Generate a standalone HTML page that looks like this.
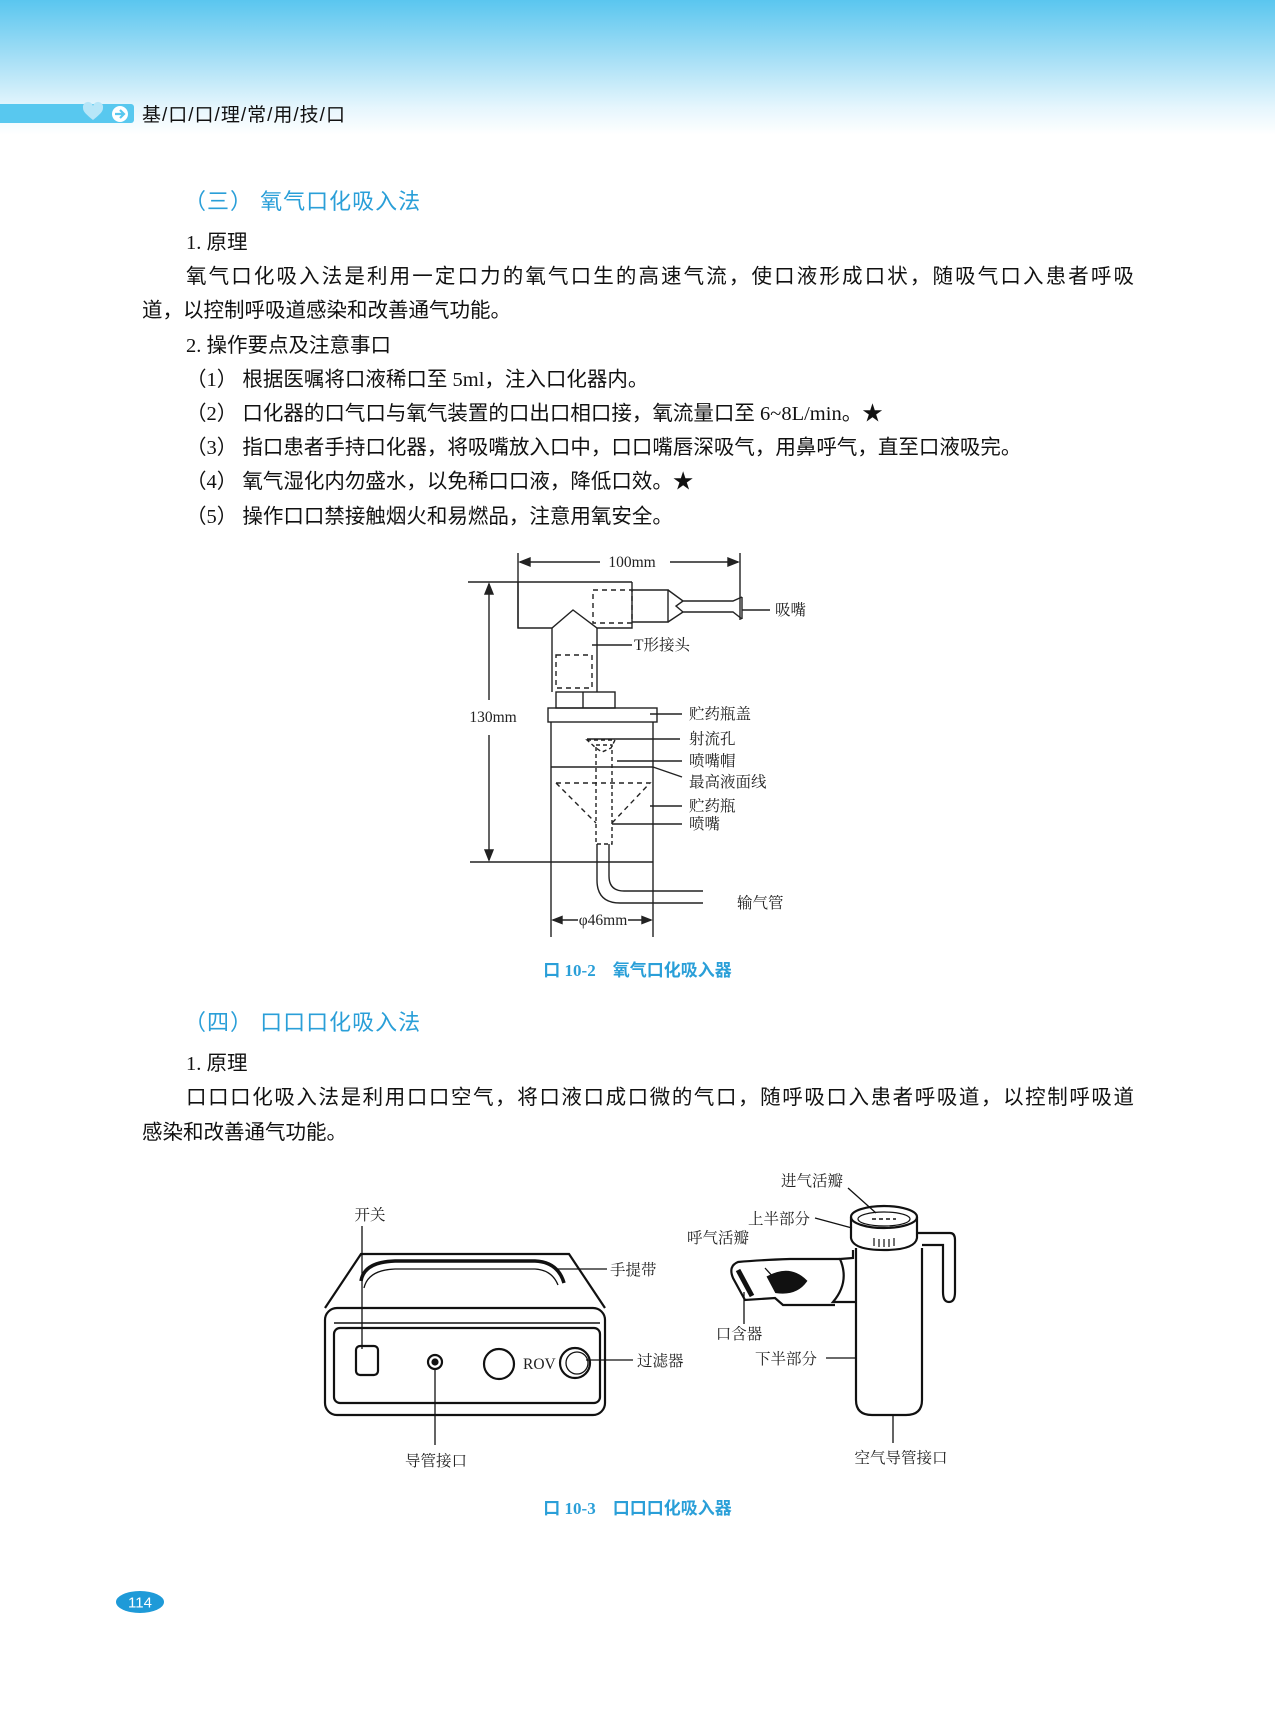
<!DOCTYPE html>
<html><head><meta charset="utf-8">
<style>
*{margin:0;padding:0;box-sizing:border-box}
body{width:1275px;height:1718px;position:relative;background:#fff;font-family:"Liberation Serif","Noto Serif CJK SC","Noto Sans CJK SC",serif;color:#111;overflow:hidden}
.hdr{position:absolute;left:0;top:0;width:1275px;height:135px;background:linear-gradient(#5ac6ef 0%,#a9e0f6 45%,#e6f6fd 80%,#fff 100%)}
.bar{position:absolute;left:0;top:104px;width:134px;height:19px;background:#58c8ef;border-radius:0 3px 3px 0}
.ht{position:absolute;left:142px;top:100px;font-size:19px;font-family:"Liberation Sans","Noto Sans CJK SC",sans-serif;letter-spacing:1px}
.t{position:absolute;font-size:20.5px;line-height:24px;font-family:"Liberation Serif","Noto Sans CJK SC",sans-serif;white-space:nowrap}
.j{text-align:justify;text-align-last:justify;white-space:normal}
.h{position:absolute;font-size:22px;color:#2a9fd8;font-family:"Liberation Sans","Noto Sans CJK SC",sans-serif;letter-spacing:1px}
.cap{position:absolute;font-size:17px;color:#2a9fd8;font-weight:bold;font-family:"Liberation Serif","Noto Sans CJK SC",sans-serif;width:1275px;text-align:center;left:0}
svg{position:absolute;left:0;top:0}
svg text{font-family:"Liberation Serif","Noto Serif CJK SC",serif;font-size:15.5px;fill:#222}
</style></head><body>
<div class="hdr"></div>
<div class="bar"></div>
<svg width="1275" height="1718">
<path d="M93 120 c-6-5-10-8-10-12 a4 4 0 0 1 10-2 a4 4 0 0 1 10 2 c0 4-4 7-10 12z" fill="#b7e6f8"/>
<circle cx="120" cy="114" r="8" fill="#fff"/>
<path d="M115 114 h8 M120 110 l4 4 -4 4" stroke="#58c8ef" stroke-width="2.2" fill="none"/>
</svg>
<div class="ht">基/口/口/理/常/用/技/口</div>

<div class="h" style="left:184px;top:184px">（三） 氧气口化吸入法</div>
<div class="t" style="left:186px;top:231px">1.  原理</div>
<div class="t j" style="left:186px;top:265px;width:948px">氧气口化吸入法是利用一定口力的氧气口生的高速气流，使口液形成口状，随吸气口入患者呼吸</div>
<div class="t" style="left:142px;top:299px">道，以控制呼吸道感染和改善通气功能。</div>
<div class="t" style="left:186px;top:334px">2.  操作要点及注意事口</div>
<div class="t" style="left:186px;top:368px">（1） 根据医嘱将口液稀口至 5ml，注入口化器内。</div>
<div class="t" style="left:186px;top:402px">（2） 口化器的口气口与氧气装置的口出口相口接，氧流量口至 6~8L/min。★</div>
<div class="t" style="left:186px;top:436px">（3） 指口患者手持口化器，将吸嘴放入口中，口口嘴唇深吸气，用鼻呼气，直至口液吸完。</div>
<div class="t" style="left:186px;top:470px">（4） 氧气湿化内勿盛水，以免稀口口液，降低口效。★</div>
<div class="t" style="left:186px;top:505px">（5） 操作口口禁接触烟火和易燃品，注意用氧安全。</div>

<svg width="1275" height="1718" fill="none" stroke="#222" stroke-width="1.4">
<line x1="518" y1="553" x2="518" y2="628"/><line x1="740" y1="553" x2="740" y2="620"/>
<line x1="520" y1="562" x2="600" y2="562"/><line x1="670" y1="562" x2="738" y2="562"/>
<path d="M520 562 l10-4 v8z M738 562 l-10-4 v8z" fill="#222"/>
<text x="632" y="567" text-anchor="middle" stroke="none" font-size="14">100mm</text>
<line x1="468" y1="582" x2="632" y2="582"/>
<line x1="489" y1="584" x2="489" y2="700"/><line x1="489" y1="735" x2="489" y2="860"/>
<path d="M489 584 l-4 10 h8z M489 860 l-4-10 h8z" fill="#222"/>
<text x="493" y="722" text-anchor="middle" stroke="none" font-size="14">130mm</text>
<line x1="470" y1="862" x2="653" y2="862"/>
<path d="M518 582 V628 H552 L573 610 L597 628 H632 V582"/>
<rect x="593" y="590" width="39" height="33" stroke-dasharray="5 4"/>
<path d="M552 628 V692 M597 628 V692"/>
<rect x="556" y="655" width="36" height="33" stroke-dasharray="5 4"/>
<path d="M632 590 H668 V622 H632"/>
<path d="M668 590 L683 601 H733 L742 597 M668 622 L683 612 H733 L742 619 M683 601 L676 606 L683 612"/>
<line x1="742" y1="597" x2="742" y2="619"/>
<line x1="742" y1="610" x2="770" y2="610"/>
<rect x="556" y="692" width="59" height="16"/><line x1="583" y1="692" x2="583" y2="708"/>
<rect x="548" y="708" width="109" height="14"/>
<path d="M551 722 V937 M653 722 V937"/>
<line x1="551" y1="767" x2="653" y2="767"/>
<path d="M587 740 H615 L611 748 L602 752 L596 748 Z" stroke-dasharray="4 3"/>
<rect x="596" y="745" width="16" height="99" stroke-dasharray="4 3"/>
<path d="M556 783 H650 L612 823 M556 783 L596 823" stroke-dasharray="5 4"/>
<path d="M597 844 V880 Q597 903 620 903 H703 M609 844 V876 Q609 891 624 891 H703"/>
<line x1="553" y1="920" x2="578" y2="920"/><line x1="628" y1="920" x2="651" y2="920"/>
<path d="M553 920 l9-3.5 v7z M651 920 l-9-3.5 v7z" fill="#222"/>
<text x="603" y="925" text-anchor="middle" stroke="none" font-size="14">φ46mm</text>
<line x1="592" y1="645" x2="632" y2="645"/>
<line x1="650" y1="714" x2="682" y2="714"/>
<line x1="587" y1="739" x2="680" y2="739"/>
<line x1="617" y1="761" x2="682" y2="761"/>
<line x1="653" y1="767" x2="682" y2="777"/>
<line x1="650" y1="806" x2="682" y2="806"/>
<line x1="612" y1="824" x2="682" y2="824"/>
<g stroke="none">
<text x="775" y="615">吸嘴</text>
<text x="634" y="650">T形接头</text>
<text x="689" y="719">贮药瓶盖</text>
<text x="689" y="744">射流孔</text>
<text x="689" y="766">喷嘴帽</text>
<text x="689" y="787">最高液面线</text>
<text x="689" y="811">贮药瓶</text>
<text x="689" y="829">喷嘴</text>
<text x="737" y="908">输气管</text>
</g>
</svg>
<div class="cap" style="top:956px">口 10-2　氧气口化吸入器</div>

<div class="h" style="left:184px;top:1005px">（四） 口口口化吸入法</div>
<div class="t" style="left:186px;top:1052px">1.  原理</div>
<div class="t j" style="left:186px;top:1086px;width:948px">口口口化吸入法是利用口口空气，将口液口成口微的气口，随呼吸口入患者呼吸道，以控制呼吸道</div>
<div class="t" style="left:142px;top:1121px">感染和改善通气功能。</div>

<svg width="1275" height="1718" fill="none" stroke="#111" stroke-width="2.2">
<path d="M325 1308 L361 1254 H569 L605 1308"/>
<rect x="325" y="1308" width="280" height="107" rx="12"/>
<line x1="334" y1="1323" x2="600" y2="1323" stroke-width="1.5"/>
<rect x="334" y="1328" width="266" height="75" rx="6"/>
<path d="M361 1281 Q364 1262 395 1261 H535 Q558 1262 564 1283" stroke-width="3.5"/>
<path d="M364 1288 Q368 1270 395 1269 H535 Q552 1270 558 1285" stroke-width="1.3"/>
<rect x="356" y="1346" width="22" height="29" rx="4"/>
<circle cx="435" cy="1362" r="7"/><circle cx="435" cy="1362" r="2.5" fill="#111"/>
<circle cx="499" cy="1364" r="15"/>
<circle cx="575" cy="1363" r="15"/><circle cx="577" cy="1363" r="11" stroke-width="1.3"/>
<g stroke-width="1.3">
<line x1="362" y1="1226" x2="362" y2="1349"/>
<line x1="558" y1="1269" x2="607" y2="1269"/>
<line x1="586" y1="1360" x2="633" y2="1360"/>
<line x1="435" y1="1369" x2="435" y2="1445"/>
</g>
<path d="M856 1248 V1400 Q856 1415 872 1415 H906 Q922 1415 922 1400 V1248"/>
<path d="M851 1217 V1238 Q853 1250 884 1250 Q915 1250 917 1238 V1217"/>
<ellipse cx="884" cy="1217" rx="33" ry="11"/>
<ellipse cx="884" cy="1219" rx="26" ry="7" stroke-width="1.2"/>
<path d="M872 1219 h24" stroke-dasharray="4 3" stroke-width="1.5"/>
<path d="M874 1238 v8 M879 1239 v8 M884 1239 v8 M889 1239 v8 M894 1238 v8" stroke-width="1.2"/>
<path d="M917 1233 H950 Q955 1233 955 1240 V1292 Q955 1302 949 1302 Q943 1302 943 1292 V1245 H922"/>
<path d="M853 1250 V1258 L840 1259 Q850 1282 833 1302 H856"/>
<path d="M840 1259 H790 Q760 1260 738 1262 Q728 1266 733 1278 L745 1300 L775 1298 L783 1305 H835"/>
<path d="M738 1270 L752 1296" stroke-width="5"/>
<path d="M768 1277 Q790 1265 806 1281 Q796 1295 776 1292 Z" fill="#111"/>
<g stroke-width="1.3">
<line x1="848" y1="1188" x2="876" y2="1213"/>
<line x1="815" y1="1218" x2="852" y2="1228"/>
<line x1="765" y1="1268" x2="785" y2="1290"/>
<line x1="744" y1="1292" x2="744" y2="1324"/>
<line x1="826" y1="1358" x2="856" y2="1358"/>
<line x1="893" y1="1415" x2="893" y2="1443"/>
</g>
<g stroke="none">
<text x="370" y="1220" text-anchor="middle">开关</text>
<text x="610" y="1275">手提带</text>
<text x="523" y="1369" font-size="14">ROV</text>
<text x="637" y="1366">过滤器</text>
<text x="436" y="1466" text-anchor="middle">导管接口</text>
<text x="812" y="1186" text-anchor="middle">进气活瓣</text>
<text x="779" y="1224" text-anchor="middle">上半部分</text>
<text x="718" y="1243" text-anchor="middle">呼气活瓣</text>
<text x="739" y="1339" text-anchor="middle">口含器</text>
<text x="786" y="1364" text-anchor="middle">下半部分</text>
<text x="901" y="1463" text-anchor="middle">空气导管接口</text>
</g>
</svg>
<div class="cap" style="top:1494px">口 10-3　口口口化吸入器</div>

<svg width="1275" height="1718">
<ellipse cx="140" cy="1602" rx="24" ry="11" fill="#1e9ad8"/>
<text x="140" y="1607.5" text-anchor="middle" style="font-family:'Liberation Sans',sans-serif;font-size:15px;fill:#fff">114</text>
</svg>
</body></html>
